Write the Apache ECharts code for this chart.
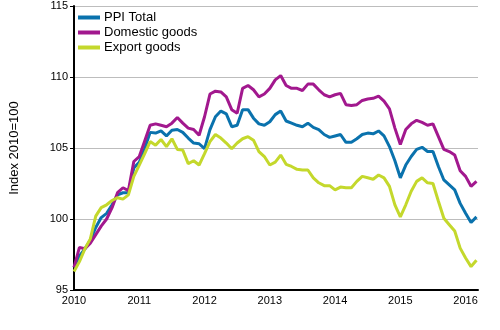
<!DOCTYPE html>
<html>
<head>
<meta charset="utf-8">
<script src="https://cdn.jsdelivr.net/npm/echarts@6/dist/echarts.min.js"></script>
<style>html,body{margin:0;padding:0;background:#fff}#c{width:500px;height:330px}</style>
</head>
<body>
<div id="c"></div>
<script>
var startYear = 2010;
var seriesNames = ['PPI Total', 'Domestic goods', 'Export goods'];
var yTicks = [95, 100, 105, 110, 115];
var xTicks = [2010, 2011, 2012, 2013, 2014, 2015, 2016];

var ppiTotal = [96.6,97.4,97.9,98.5,99.4,100.1,100.4,101.0,101.7,101.85,101.85,103.6,
104.0,104.97,106.1,106.05,106.2,105.85,106.25,106.3,106.1,105.7,105.35,105.3,
104.95,106.3,107.2,107.6,107.4,106.5,106.6,107.7,107.7,107.1,106.7,106.6,
106.85,107.35,107.6,106.9,106.75,106.6,106.5,106.75,106.45,106.3,105.95,105.75,
105.85,105.95,105.4,105.4,105.65,105.95,106.05,106.0,106.2,105.85,105.1,104.1,
102.9,103.8,104.4,104.9,105.05,104.75,104.75,103.7,102.75,102.4,102.05,101.1,
100.4,99.75,100.15];

var domesticGoods = [96.6,98.0,97.9,98.3,98.9,99.5,100.0,100.8,101.85,102.2,102.0,104.05,
104.4,105.5,106.6,106.7,106.6,106.5,106.75,107.15,106.75,106.4,106.3,105.9,
107.2,108.8,109.0,108.95,108.6,107.7,107.45,109.2,109.4,109.1,108.6,108.8,
109.2,109.8,110.1,109.4,109.2,109.2,109.05,109.5,109.5,109.1,108.75,108.6,
108.75,108.85,108.05,108.0,108.05,108.35,108.45,108.5,108.65,108.3,107.75,106.4,
105.25,106.3,106.7,106.95,106.8,106.6,106.7,105.8,104.9,104.75,104.5,103.4,
103.0,102.3,102.65];

var exportGoods = [96.3,97.0,97.9,98.6,100.2,100.8,101.0,101.3,101.5,101.4,101.7,103.0,
103.8,104.6,105.45,105.2,105.6,105.1,105.65,104.9,104.85,103.9,104.1,103.8,
104.6,105.45,105.95,105.7,105.35,104.95,105.35,105.65,105.8,105.55,104.75,104.4,
103.8,104.0,104.5,103.85,103.7,103.5,103.45,103.45,102.9,102.55,102.35,102.35,
102.05,102.25,102.2,102.2,102.65,103.0,102.9,102.8,103.1,102.9,102.3,101.0,
100.15,101.0,101.95,102.65,102.9,102.55,102.5,101.25,100.05,99.6,99.15,97.95,
97.25,96.65,97.1];

var colors = ['#0a72ad', '#a2188e', '#c4d82c'];

function toPoints(arr) {
  return arr.map(function (v, i) { return [startYear + i / 12, v]; });
}

var chart = echarts.init(document.getElementById('c'), null, {renderer: 'canvas'});
var font = '"Liberation Sans", Arial, sans-serif';
chart.setOption({
  animation: false,
  color: colors,
  textStyle: {fontFamily: font},
  grid: {left: 68, right: 22, top: 6, bottom: 40, containLabel: false},
  legend: {
    orient: 'vertical', left: 73, top: 6,
    icon: 'rect', itemWidth: 22, itemHeight: 4, itemGap: 2,
    textStyle: {fontSize: 13, color: '#000', fontFamily: font, padding: [0, 0, 0, -1]},
    data: seriesNames
  },
  xAxis: {
    type: 'value', min: xTicks[0], max: 2016.19, interval: 1,
    axisLine: {lineStyle: {color: '#000', width: 2}},
    axisTick: {show: false},
    splitLine: {show: false},
    axisLabel: {
      fontSize: 11, color: '#000', margin: 5, fontFamily: font,
      formatter: function (v) { return xTicks.indexOf(Math.round(v * 1000) / 1000) >= 0 ? String(v) : ''; }
    }
  },
  yAxis: {
    type: 'value', min: yTicks[0], max: yTicks[yTicks.length - 1], interval: 5,
    name: 'Index 2010=100', nameLocation: 'middle', nameGap: 53,
    nameTextStyle: {fontSize: 13, color: '#000', fontFamily: font},
    axisLine: {show: true, lineStyle: {color: '#000', width: 2}},
    axisTick: {show: true, length: 4, lineStyle: {color: '#000'}},
    splitLine: {lineStyle: {color: '#bdbdbd', width: 1}},
    axisLabel: {fontSize: 11, color: '#000', margin: 6, fontFamily: font}
  },
  series: [
    {name: seriesNames[0], type: 'line', data: toPoints(ppiTotal), showSymbol: false, lineStyle: {width: 3}},
    {name: seriesNames[1], type: 'line', data: toPoints(domesticGoods), showSymbol: false, lineStyle: {width: 3}},
    {name: seriesNames[2], type: 'line', data: toPoints(exportGoods), showSymbol: false, lineStyle: {width: 3}}
  ]
});
</script>
</body>
</html>
